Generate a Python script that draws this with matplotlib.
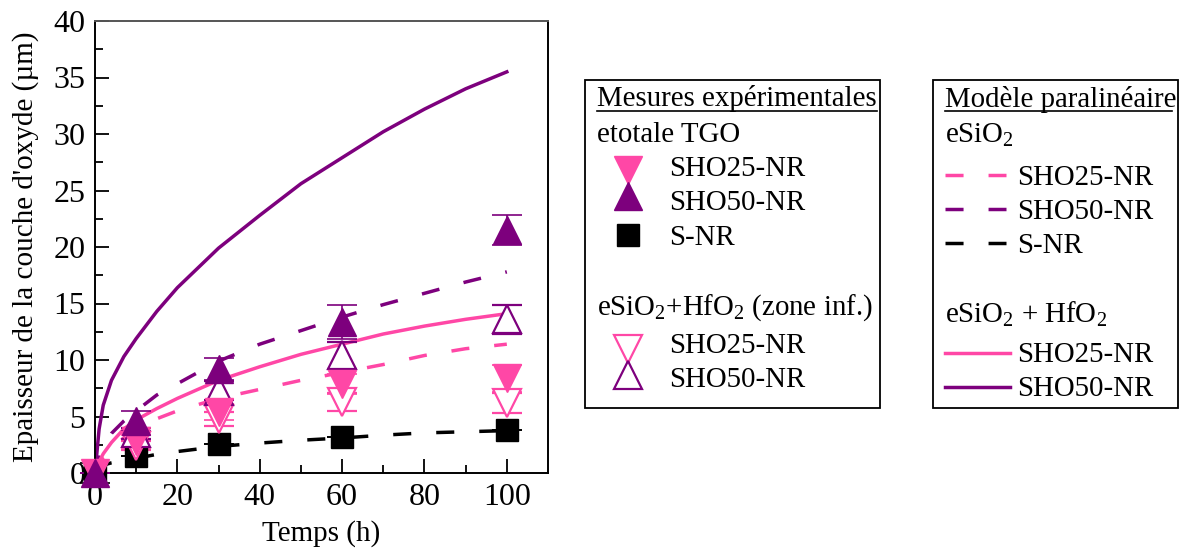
import matplotlib
matplotlib.use("Agg")
import matplotlib.pyplot as plt
from matplotlib.patches import Rectangle

plt.rcParams['font.family'] = ['Liberation Serif', 'DejaVu Serif']
plt.rcParams['mathtext.fontset'] = 'custom'
plt.rcParams['mathtext.rm'] = 'Liberation Serif'
plt.rcParams['mathtext.it'] = 'Liberation Serif:italic'
plt.rcParams['lines.scale_dashes'] = False

PINK = '#ff47a6'
PURPLE = '#7d007d'
BLACK = 'black'
DASH = (0, (13, 18))

# --- measured thicknesses (µm) ---
t_meas = [0, 10, 30, 60, 100]
sho25_tot = [0, 2.8, 5.4, 7.9, 8.4]
sho25_tot_err = [0, 0.6, 0.7, 0.9, 1.2]
sho50_tot = [0, 4.6, 9.2, 13.4, 21.5]
sho50_tot_err = [0, 0.9, 1.0, 1.5, 1.3]
snr_tot = [0, 1.5, 2.6, 3.2, 3.8]
snr_tot_err = [0.9, 0, 0, 0, 0]

t_inf = [10, 30, 60, 100]
sho25_inf = [2.4, 4.8, 6.3, 6.2]
sho25_inf_err = [0.4, 0.6, 0.8, 0.9]
sho50_inf = [3.5, 7.3, 10.4, 13.6]
sho50_inf_err = [0.5, 0.8, 1.2, 1.3]

# --- paralinear model curves ---
t_model = [0, 1, 2, 4, 7, 10, 15, 20, 30, 40, 50, 60, 70, 80, 90, 100]
mod25_sio2 = [0, 0.9, 1.4, 2.2, 3.1, 4.0, 4.8, 5.5, 6.6, 7.4, 8.2, 8.9, 9.6, 10.4, 11.0, 11.4]
mod50_sio2 = [0, 1.3, 2.3, 3.5, 4.6, 5.5, 6.9, 7.9, 9.9, 11.4, 12.6, 13.8, 14.9, 15.9, 16.9, 17.8]
modS_sio2 = [0.3, 0.5, 0.7, 0.9, 1.1, 1.3, 1.65, 1.9, 2.35, 2.65, 2.9, 3.1, 3.35, 3.55, 3.65, 3.75]
mod25_tot = [0, 1.0, 1.7, 2.7, 3.9, 4.7, 5.7, 6.6, 8.2, 9.4, 10.5, 11.4, 12.3, 13.0, 13.6, 14.1]
mod50_tot = [0, 3.9, 6.0, 8.2, 10.3, 11.9, 14.3, 16.4, 19.9, 22.8, 25.6, 27.9, 30.2, 32.2, 34.0, 35.5]

W, H = 1181, 559
fig = plt.figure(figsize=(W / 100, H / 100), dpi=100)

# overlay axes in pixel coords for the two legend boxes
lg = fig.add_axes([0, 0, 1, 1])
lg.set_xlim(0, W); lg.set_ylim(H, 0); lg.axis("off")

ax = fig.add_axes([95 / W, 1 - 473 / H, 453 / W, 452 / H])

lw = 2.5
ax.plot(t_model, mod25_sio2, color=PINK, lw=lw, ls=DASH, zorder=2)
ax.plot(t_model, mod50_sio2, color=PURPLE, lw=lw, ls=DASH, zorder=2)
ax.plot(t_model, modS_sio2, color=BLACK, lw=lw, ls=DASH, zorder=2)
ax.plot(t_model, mod25_tot, color=PINK, lw=lw, zorder=2)
ax.plot(t_model, mod50_tot, color=PURPLE, lw=lw, zorder=2)

eb = dict(capsize=11, capthick=1.2, elinewidth=1.2, ls="none", zorder=3)
series = [
    (t_meas, snr_tot, snr_tot_err, dict(marker="s", ms=16, color=BLACK)),
    (t_inf, sho25_inf, sho25_inf_err, dict(marker="v", ms=20, color=PINK, mfc="white", mew=1.6)),
    (t_inf, sho50_inf, sho50_inf_err, dict(marker="^", ms=20, color=PURPLE, mfc="white", mew=1.6)),
    (t_meas, sho25_tot, sho25_tot_err, dict(marker="v", ms=20, color=PINK)),
    (t_meas, sho50_tot, sho50_tot_err, dict(marker="^", ms=20, color=PURPLE)),
]
for tx, y, err, style in series:
    cont = ax.errorbar(tx, y, yerr=err, **style, **eb)
    for art in cont.get_children():
        art.set_clip_on(False)

ax.set_xlim(0, 110)
ax.set_ylim(0, 40)
ax.set_xticks([0, 20, 40, 60, 80, 100])
ax.set_xticks(range(10, 110, 20), minor=True)
ax.set_yticks(range(0, 45, 5))
ax.set_yticks([2.5 + 5 * i for i in range(8)], minor=True)
ax.tick_params(which="both", direction="in", labelsize=23, width=1.3)
ax.tick_params(which="major", length=10, pad=7)
ax.tick_params(which="minor", length=5.5)
for s in ax.spines.values():
    s.set_linewidth(1.4)
ax.spines["top"].set_color("#555555")
ax.set_xlabel("Temps (h)", fontsize=21, labelpad=6)
ax.set_ylabel("Epaisseur de la couche d'oxyde (µm)", fontsize=21, labelpad=10)
ax.patch.set_alpha(0)

# --- legend boxes ---
fs = 20.8
for x0, x1 in [(585, 880), (933, 1178)]:
    lg.add_patch(Rectangle((x0, 80), x1 - x0, 328, fill=False, ec="black", lw=1.3))

# box 1: measurements
lg.text(597, 106, "Mesures expérimentales", fontsize=fs, va="baseline")
lg.plot([597, 877], [111, 111], color="black", lw=1.2)
lg.text(597, 142, "etotale TGO", fontsize=fs, va="baseline")
lg.plot(628, 170, marker="v", ms=20, color=PINK, ls="none")
lg.text(669, 176, "SHO25-NR", fontsize=fs, va="baseline")
lg.plot(628, 196, marker="^", ms=20, color=PURPLE, ls="none")
lg.text(669, 210, "SHO50-NR", fontsize=fs, va="baseline")
lg.plot(628, 235, marker="s", ms=16, color=BLACK, ls="none")
lg.text(669, 245, "S-NR", fontsize=fs, va="baseline")
lg.text(597, 315, r"eSiO$_2$+HfO$_2$ (zone inf.)", fontsize=fs, va="baseline")
lg.plot(628, 349, marker="v", ms=20, color=PINK, mfc="white", mew=1.6, ls="none")
lg.text(669, 353, "SHO25-NR", fontsize=fs, va="baseline")
lg.plot(628, 375, marker="^", ms=20, color=PURPLE, mfc="white", mew=1.6, ls="none")
lg.text(669, 387, "SHO50-NR", fontsize=fs, va="baseline")

# box 2: paralinear model
lg.text(945, 107, "Modèle paralinéaire", fontsize=fs, va="baseline")
lg.plot([945, 1172], [111, 111], color="black", lw=1.2)
lg.text(945, 143, r"eSiO$_2$", fontsize=fs, va="baseline")
for y, c, lab in [(175, PINK, "SHO25-NR"), (209, PURPLE, "SHO50-NR"), (243, BLACK, "S-NR")]:
    lg.plot([945, 1006], [y, y], color=c, lw=lw, ls=DASH)
    lg.text(1017, y + 10, lab, fontsize=fs, va="baseline")
lg.text(945, 323, r"eSiO$_2$ + HfO$_2$", fontsize=fs, va="baseline")
for y, c, lab in [(353, PINK, "SHO25-NR"), (387, PURPLE, "SHO50-NR")]:
    lg.plot([945, 1010], [y, y], color=c, lw=lw)
    lg.text(1017, y + 9, lab, fontsize=fs, va="baseline")

fig.savefig("out.png", dpi=100)
